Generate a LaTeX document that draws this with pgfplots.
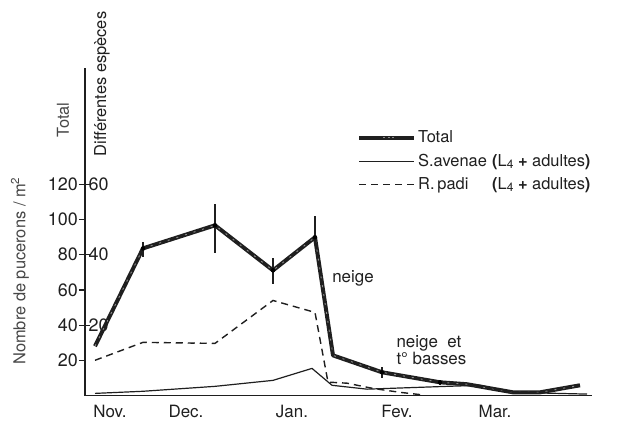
\documentclass[border=0pt]{standalone}
\usepackage{pgfplots}
\pgfplotsset{compat=1.18}
\usepackage{pgfplotstable}
\usepackage{fontspec}
\setmainfont{TeX Gyre Heros}

\pgfplotstableread{
x y
95 28
143 83.6
215 96.7
273 71.1
315 89.9
333 22.8
382 13.2
440 7.5
467 6.4
513 1.8
540 1.8
580 5.8
}\total

\pgfplotstableread{
x y ep em
143 83.6 3.5 5
215 96.7 12.3 15.7
273 71.1 7 8
315 89.9 12 3
382 13.2 3 3
440 7.5 1.5 1.5
}\totalerr

\pgfplotstableread{
x y
95 0.6
143 1.2
215 2.6
273 4.3
312 7.7
332 2.9
367 1.8
447 2.6
480 2.9
513 0.9
587 0.4
}\savenae

\pgfplotstableread{
x y
95 10.0
143 15.1
215 14.8
273 27.0
315 23.6
328 3.8
347 3.5
373 2.0
400 0.9
425 0.1
}\rpadi

\definecolor{ink}{gray}{0.12}

\begin{document}
\begin{tikzpicture}
\path[use as bounding box] (0,0) rectangle (617bp,424bp);

\begin{axis}[
  at={(85bp,28.5bp)}, anchor=south west,
  scale only axis, width=507bp, height=327.5bp,
  xmin=85, xmax=592, ymin=0, ymax=186.1,
  axis y line=left, axis x line=bottom,
  axis line style={-, ink, line width=1.4bp},
  tick align=outside,
  major tick length=6bp, minor tick length=7bp,
  tick style={ink, line width=1.2bp},
  ytick={20,40,60,80,100,120},
  ytick pos=left,
  xtick={110,186,292,397,495},
  xticklabels={Nov.,Dec.,Jan.,Fev.,Mar.},
  xtick style={draw=none},
  minor xtick={143,252,358,455,560},
  /pgf/number format/assume math mode=true,
  yticklabel style={font=\fontsize{18}{20}\selectfont, text=ink, anchor=east, inner sep=1bp},
  xticklabel style={font=\fontsize{17}{20}\selectfont, text=ink},
  clip=false,
  legend style={at={(0.5365,0.815)}, anchor=north west, draw=none, fill=none,
    font=\fontsize{16.5}{19}\selectfont, text=ink, row sep=6bp, inner sep=0pt},
  legend cell align=left,
]
\addlegendimage{legend image code/.code={
  \draw[ink, line width=4bp] (0bp,0bp) -- (55bp,0bp);
  \draw[white!55!black, line width=1bp, dash pattern=on 2bp off 2.5bp] (24bp,0bp) -- (36bp,0bp);}}
\addlegendentry{Total}
\addlegendimage{legend image code/.code={
  \draw[ink, line width=1.2bp] (0bp,0bp) -- (55bp,0bp);}}
\addlegendentry{\makebox[74bp][l]{S.avenae}\textbf{(}L{\fontsize{12}{12}\selectfont\raisebox{-2bp}{4}} \textbf{+} adultes\textbf{)}}
\addlegendimage{legend image code/.code={
  \draw[ink, line width=1.4bp, dash pattern=on 7bp off 5bp] (0bp,0bp) -- (55bp,0bp);}}
\addlegendentry{\makebox[74bp][l]{R.\,padi}\textbf{(}L{\fontsize{12}{12}\selectfont\raisebox{-2bp}{4}} \textbf{+} adultes\textbf{)}}

\addplot[ink, line width=4bp, line join=round, forget plot] table[x=x,y=y] {\total};
\addplot[white!55!black, line width=0.9bp, dash pattern=on 2bp off 7bp, forget plot] table[x=x,y=y] {\total};
\addplot[forget plot, only marks, mark=none,
  error bars/.cd, y dir=both, y explicit,
  error bar style={ink, solid, line width=1.4bp}, error mark=none]
  table[x=x, y=y, y error plus=ep, y error minus=em] {\totalerr};

\node[font=\fontsize{17}{18}\selectfont, text=ink] at (axis cs:353,66.6) {neige};
\node[font=\fontsize{17}{16}\selectfont, text=ink, align=left, anchor=west] at (axis cs:393,25.7) {neige\ \ et\\t° basses};
\end{axis}

\begin{axis}[
  at={(85bp,28.5bp)}, anchor=south west,
  scale only axis, width=507bp, height=327.5bp,
  xmin=85, xmax=592, ymin=0, ymax=93.05,
  axis y line=left, axis x line=none,
  axis line style={-, ink, line width=1.4bp},
  tick align=center, major tick length=9bp,
  tick style={ink, line width=1.2bp},
  ytick={20,40,60},
  /pgf/number format/assume math mode=true,
  yticklabel style={font=\fontsize{18}{20}\selectfont, text=ink, anchor=west, xshift=7bp, inner sep=1bp},
]
\addplot[ink, line width=1.2bp] table[x=x,y=y] {\savenae};
\addplot[ink, line width=1.4bp, dash pattern=on 7bp off 5bp] table[x=x,y=y] {\rpadi};
\end{axis}

\node[rotate=90, font=\fontsize{16.5}{18}\selectfont, text=black!72] at (20bp,153bp) {Nombre de pucerons / m\textsuperscript{2}};
\node[rotate=90, font=\fontsize{16.5}{18}\selectfont, text=black!72] at (63bp,304bp) {Total};
\node[rotate=90, font=\fontsize{16.5}{18}\selectfont, text=ink] at (102bp,340bp) {Différentes espèces};
\end{tikzpicture}
\end{document}
